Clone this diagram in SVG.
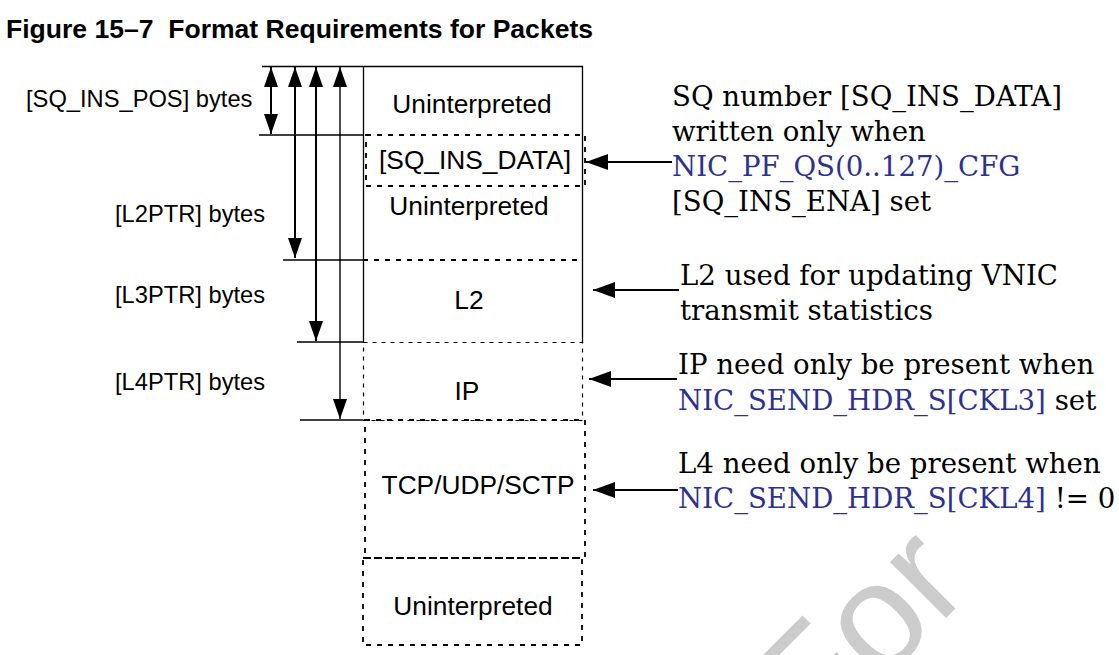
<svg xmlns="http://www.w3.org/2000/svg" width="1119" height="655" viewBox="0 0 1119 655">
<style>
.title{font-family:"Liberation Sans",Arial,sans-serif;font-weight:bold;font-size:25px;fill:#000}
.lbl{font-family:"Liberation Sans",Arial,sans-serif;font-size:23.7px;fill:#000}
.box{font-family:"Liberation Sans",Arial,sans-serif;font-size:26.3px;fill:#000;text-anchor:middle}
.note{font-family:"DejaVu Serif","Liberation Serif",serif;font-size:27.6px;fill:#000}
.blue{fill:#2e3192}
.solid{stroke:#000;stroke-width:1.3;fill:none}
.dash{stroke:#000;stroke-width:1.8;fill:none;stroke-dasharray:5 6}
.fdash{stroke:#000;stroke-width:1.2;fill:none;stroke-dasharray:4 5}
.dim{stroke:#000;stroke-width:2;fill:none}
.dimt{stroke:#000;stroke-width:1.4;fill:none}
.ptr{stroke:#000;stroke-width:2;fill:none}
.wm{font-family:"Liberation Sans",Arial,sans-serif;font-size:150px;fill:#cccccc}
</style>
<defs>
<marker id="av" viewBox="0 0 20 14" refX="20" refY="7" markerWidth="20" markerHeight="14" markerUnits="userSpaceOnUse" orient="auto-start-reverse">
<path d="M0,0 L20,7 L0,14 z" fill="#000"/>
</marker>
<marker id="ah" viewBox="0 0 22 16" refX="22" refY="8" markerWidth="22" markerHeight="16" markerUnits="userSpaceOnUse" orient="auto">
<path d="M0,0 L22,8 L0,16 z" fill="#000"/>
</marker>
</defs>
<rect x="0" y="0" width="1119" height="655" fill="#fff"/>
<text class="wm" transform="translate(815,749) rotate(-45)">For</text>
<text class="title" x="6" y="38" textLength="587" lengthAdjust="spacingAndGlyphs">Figure 15–7&#160; Format Requirements for Packets</text>

<g id="packet">
<path class="solid" d="M363.5,343 L363.5,66.5 L582.5,66.5 L582.5,343"/>
<g id="seg-uninterp1"><text class="box" x="472" y="113">Uninterpreted</text></g>
<g id="seg-sqinsdata"><rect class="dash" x="366" y="135" width="219" height="51"/><text class="box" x="475" y="169">[SQ_INS_DATA]</text></g>
<g id="seg-uninterp2"><text class="box" x="469" y="215">Uninterpreted</text></g>
<g id="seg-l2"><line class="dash" x1="363" y1="260" x2="582" y2="260"/><text class="box" x="469" y="309">L2</text></g>
<g id="seg-ip"><rect class="fdash" x="363.5" y="342.5" width="219" height="78"/><text class="box" x="467" y="400">IP</text></g>
<g id="seg-l4"><rect class="dash" x="365" y="420" width="220" height="138"/><text class="box" x="478" y="494">TCP/UDP/SCTP</text></g>
<g id="seg-uninterp3"><rect class="dash" x="363" y="558" width="219" height="87"/><text class="box" x="473" y="615">Uninterpreted</text></g>
</g>

<g id="offset-labels">
<text class="lbl" x="26" y="107">[SQ_INS_POS] bytes</text>
<text class="lbl" x="115" y="222">[L2PTR] bytes</text>
<text class="lbl" x="115" y="303">[L3PTR] bytes</text>
<text class="lbl" x="115" y="390">[L4PTR] bytes</text>
</g>

<g id="notes">
<text class="note" x="672" y="106">SQ number [SQ_INS_DATA]</text>
<text class="note" x="672" y="141">written only when</text>
<text class="note blue" x="672" y="176">NIC_PF_QS(0..127)_CFG</text>
<text class="note" x="672" y="211">[SQ_INS_ENA] set</text>
<text class="note" x="680" y="285">L2 used for updating VNIC</text>
<text class="note" x="680" y="320">transmit statistics</text>
<text class="note" x="678" y="374">IP need only be present when</text>
<text class="note" x="678" y="410"><tspan class="blue">NIC_SEND_HDR_S[CKL3]</tspan> set</text>
<text class="note" x="678" y="473">L4 need only be present when</text>
<text class="note" x="678" y="508"><tspan class="blue">NIC_SEND_HDR_S[CKL4]</tspan> != 0</text>
</g>

<g id="connectors">
<line class="dimt" x1="262" y1="66.5" x2="363" y2="66.5"/>
<line class="dimt" x1="259" y1="135" x2="363" y2="135"/>
<line class="dimt" x1="283" y1="260" x2="363" y2="260"/>
<line class="dimt" x1="297" y1="342" x2="363" y2="342"/>
<line class="dimt" x1="300" y1="420" x2="363" y2="420"/>
<line class="dim" x1="271" y1="67" x2="271" y2="134" marker-start="url(#av)" marker-end="url(#av)"/>
<line class="dim" x1="295" y1="67" x2="295" y2="258" marker-start="url(#av)" marker-end="url(#av)"/>
<line class="dim" x1="316" y1="67" x2="316" y2="341" marker-start="url(#av)" marker-end="url(#av)"/>
<line class="dimt" x1="340" y1="67" x2="340" y2="419" marker-start="url(#av)" marker-end="url(#av)"/>
<line class="ptr" x1="672" y1="162" x2="586" y2="162" marker-end="url(#ah)"/>
<line class="ptr" x1="679" y1="290" x2="593" y2="290" marker-end="url(#ah)"/>
<line class="ptr" x1="677" y1="379" x2="589" y2="379" marker-end="url(#ah)"/>
<line class="ptr" x1="678" y1="490" x2="593" y2="490" marker-end="url(#ah)"/>
</g>
</svg>
